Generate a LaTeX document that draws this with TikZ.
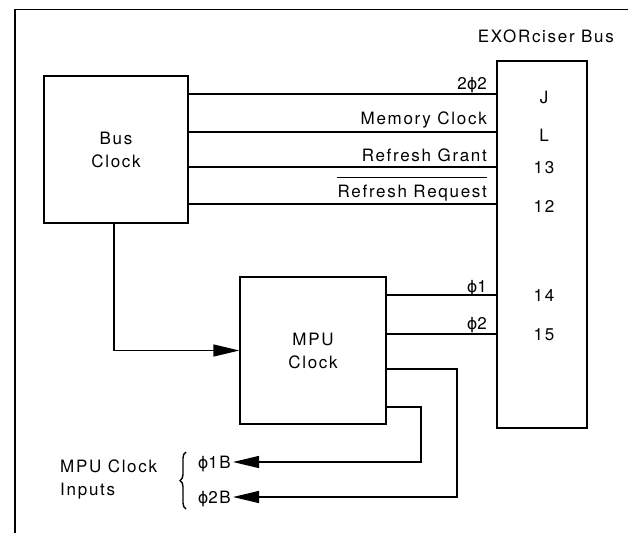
\documentclass[tikz,border=0pt]{standalone}
\usepackage{fontspec}
\setmainfont{TeX Gyre Heros}[LetterSpace=10]
\newfontfamily\phifont{DejaVu Sans}
\newcommand{\ph}{{\phifont\fontsize{16}{20}\selectfont ϕ}}
\usetikzlibrary{arrows.meta,decorations.pathreplacing}
\tikzset{
  box/.style={draw, line width=1.3pt, align=center, inner sep=0pt, font=\fontsize{17}{23}\selectfont},
  wire/.style={line width=1.3pt},
  arr/.style={wire, -{Triangle[length=26pt,width=12pt]}},
  lbl/.style={inner sep=0pt, font=\fontsize{17}{21}\selectfont},
}
\begin{document}
\begin{tikzpicture}[x=1pt,y=-1pt]
\useasboundingbox (0,0) rectangle (628,533);
% frame
\draw[wire] (15,533) -- (15,9.5) -- (628,9.5);
% boxes
\node[box, minimum width=144pt, minimum height=147pt] (busclk) at (116,149.5) {Bus\\Clock};
\node[box, minimum width=90pt, minimum height=367pt] (bus) at (542,244.5) {};
\node[box, minimum width=146pt, minimum height=147pt] (mpu) at (313,350.5) {MPU\\Clock};
\node[lbl, anchor=base east] (ex) at (614,42) {EXORciser Bus};
% bus pin labels
\node[lbl] (pJ) at (544,97) {J};
\node[lbl] (pL) at (544,135) {L};
\node[lbl] (p13) at (544,168) {13};
\node[lbl] (p12) at (544,206) {12};
\node[lbl] (p14) at (544,295) {14};
\node[lbl] (p15) at (544,335) {15};
% bus clock lines
\draw[wire] (busclk.east |- 0,94) -- (bus.west |- 0,94);
\draw[wire] (busclk.east |- 0,132) -- (bus.west |- 0,132);
\draw[wire] (busclk.east |- 0,167) -- (bus.west |- 0,167);
\draw[wire] (busclk.east |- 0,204) -- (bus.west |- 0,204);
\node[lbl, anchor=base east] (l1) at (487,89) {2\ph2};
\node[lbl, anchor=base east] (l2) at (487,124) {Memory Clock};
\node[lbl, anchor=base east] (l3) at (487,161) {Refresh Grant};
\node[lbl, anchor=base east] (l4) at (487,197) {Refresh Request};
\draw[line width=0.7pt] ([yshift=7pt]l4.north west) -- ([yshift=7pt]l4.north east);
% mpu to bus
\draw[wire] (mpu.east |- 0,295) -- (bus.west |- 0,295);
\draw[wire] (mpu.east |- 0,334) -- (bus.west |- 0,334);
\node[lbl, anchor=base east] (l5) at (487,292) {\ph1};
\node[lbl, anchor=base east] (l6) at (487,329) {\ph2};
% bus clock to mpu
\draw[arr] ([xshift=-2pt]busclk.south) |- (mpu.west);
% outputs
\node[lbl, anchor=base east] (p1b) at (231,468) {\ph1B};
\node[lbl, anchor=base east] (p2b) at (231,503) {\ph2B};
\draw[arr] (mpu.east |- 0,407) -| (421,462) -- ([xshift=2pt]p1b.east |- 0,462);
\draw[arr] (mpu.east |- 0,369) -| (457,497) -- ([xshift=2pt]p2b.east |- 0,497);
\draw[line width=1.4pt, decorate, decoration={brace, amplitude=6pt}] (186,509) -- (186,452);
\node[lbl, anchor=base west] (mci) at (60,472) {MPU Clock};
\node[lbl, anchor=base west] (inp) at (60,495) {Inputs};
\end{tikzpicture}
\end{document}
